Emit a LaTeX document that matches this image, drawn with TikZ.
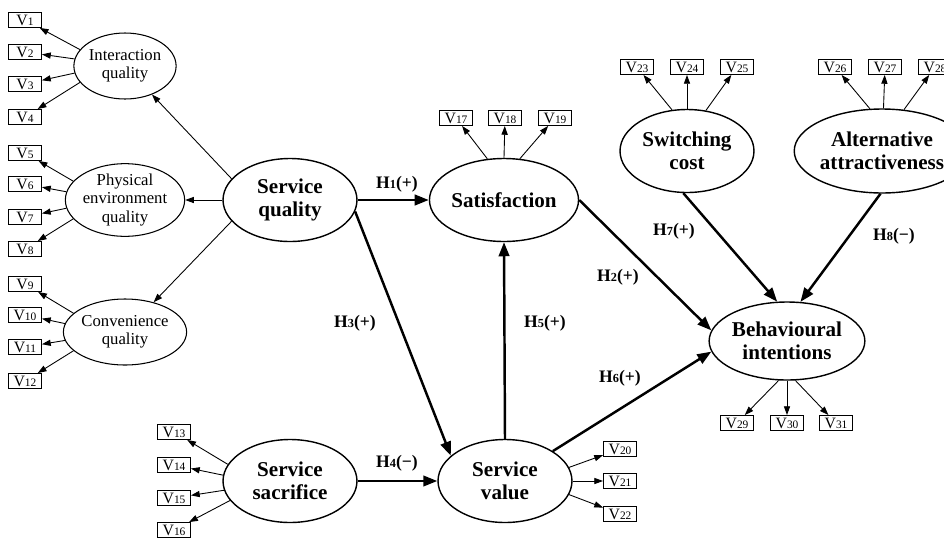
\documentclass[tikz,border=0pt]{standalone}
\usepackage{fontspec}
\setmainfont{Liberation Serif}
\usetikzlibrary{shapes.geometric,arrows.meta}
\newcommand{\vv}[1]{V{\fontsize{6.5}{6.5}\selectfont #1}}
\newcommand{\hh}[2]{H{\fontsize{7}{7}\selectfont #1}(#2)}
\begin{document}
\begin{tikzpicture}[x=0.02cm, y=-0.02cm,
    ind/.style={draw, line width=0.5pt, minimum width=0.66cm, minimum height=0.3cm, inner sep=0pt, font=\fontsize{9}{9}\selectfont},
    fac/.style={ellipse, draw, line width=0.6pt, minimum width=2cm, minimum height=1.32cm, inner sep=0pt, align=center, font=\fontsize{9.5}{10.3}\selectfont},
    lat/.style={ellipse, draw, line width=0.8pt, minimum width=2.68cm, minimum height=1.66cm, inner sep=0pt, align=center, font=\bfseries\fontsize{12}{13}\selectfont},
    load/.style={-{Triangle[length=5pt,width=3.5pt]}, line width=0.5pt},
    hpath/.style={-{Triangle[length=8pt,width=6pt]}, line width=1.4pt},
    hyp/.style={font=\bfseries\fontsize{10}{10}\selectfont}]
    \useasboundingbox (0,0) rectangle (944,538);

    % first-order factors of service quality
    \node[fac] (iq) at (125,66) {Interaction\\quality};
    \node[fac] (peq) at (125,200) {Physical\\environment\\quality};
    \node[fac] (cq) at (125,332) {Convenience\\quality};

    % latent constructs
    \node[lat] (sq) at (290,200) {Service\\quality};
    \node[lat] (sat) at (504,200) {Satisfaction};
    \node[lat] (ss) at (290,481) {Service\\sacrifice};
    \node[lat] (sv) at (505,481) {Service\\value};
    \node[lat] (sw) at (687,151) {Switching\\cost};
    \node[lat, minimum width=2.92cm, minimum height=1.68cm] (alt) at (882,151) {Alternative\\attractiveness};
    \node[lat, minimum height=1.56cm] (bi) at (787,341) {Behavioural\\intentions};

    % indicators
    \foreach \i/\y in {1/20,2/52,3/84,4/117,5/153,6/184,7/217,8/249,9/284,10/315,11/347,12/381}
        \node[ind] (v\i) at (25,\y) {\vv{\i}};
    \foreach \i/\y in {13/432,14/465,15/498,16/530}
        \node[ind] (v\i) at (174,\y) {\vv{\i}};
    \foreach \i/\x in {17/456,18/505,19/555}
        \node[ind] (v\i) at (\x,118) {\vv{\i}};
    \foreach \i/\y in {20/449,21/481,22/514}
        \node[ind] (v\i) at (620,\y) {\vv{\i}};
    \foreach \i/\x in {23/637,24/687,25/737,26/835,27/885,28/935}
        \node[ind] (v\i) at (\x,67) {\vv{\i}};
    \foreach \i/\x in {29/737,30/787,31/836}
        \node[ind] (v\i) at (\x,423) {\vv{\i}};

    % loadings
    \foreach \a/\i in {160/1,172/2,188/3,200/4}
        \draw[load] (iq.\a) -- (v\i);
    \foreach \a/\i in {160/5,172/6,188/7,200/8}
        \draw[load] (peq.\a) -- (v\i);
    \foreach \a/\i in {160/9,172/10,188/11,200/12}
        \draw[load] (cq.\a) -- (v\i);
    \foreach \a/\i in {165/13,175/14,188/15,198/16}
        \draw[load] (ss.\a) -- (v\i);
    \foreach \a/\i in {112/17,90/18,69/19}
        \draw[load] (sat.\a) -- (v\i);
    \foreach \a/\i in {12/20,0/21,-12/22}
        \draw[load] (sv.\a) -- (v\i);
    \foreach \a/\i in {110/23,90/24,65/25}
        \draw[load] (sw.\a) -- (v\i);
    \foreach \a/\i in {106/26,88/27,62/28}
        \draw[load] (alt.\a) -- (v\i);
    \foreach \a/\i in {258/29,270/30,282/31}
        \draw[load] (bi.\a) -- (v\i);

    \draw[load] (sq.160) -- (iq);
    \draw[load] (sq.west) -- (peq.east);
    \draw[load] (sq.200) -- (cq);

    % hypotheses
    \draw[hpath] (sq.east) -- (sat.west);
    \draw[hpath] (sat.east) -- (bi.172);
    \draw[hpath] (sq.-10) -- (sv.155);
    \draw[hpath] (ss.east) -- (sv.west);
    \draw[hpath] (sv.north) -- (sat.south);
    \draw[hpath] (sv.32) -- (bi.188);
    \draw[hpath] (sw.265) -- (bi.104);
    \draw[hpath] (alt.268) -- (bi.71);

    \node[hyp] (h1) at (397,184) {\hh{1}{+}};
    \node[hyp] (h2) at (618,277) {\hh{2}{+}};
    \node[hyp] (h3) at (355,323) {\hh{3}{+}};
    \node[hyp] (h4) at (397,463) {\hh{4}{−}};
    \node[hyp] (h5) at (545,323) {\hh{5}{+}};
    \node[hyp] (h6) at (620,378) {\hh{6}{+}};
    \node[hyp] (h7) at (674,231) {\hh{7}{+}};
    \node[hyp] (h8) at (894,236) {\hh{8}{−}};
\end{tikzpicture}
\end{document}
